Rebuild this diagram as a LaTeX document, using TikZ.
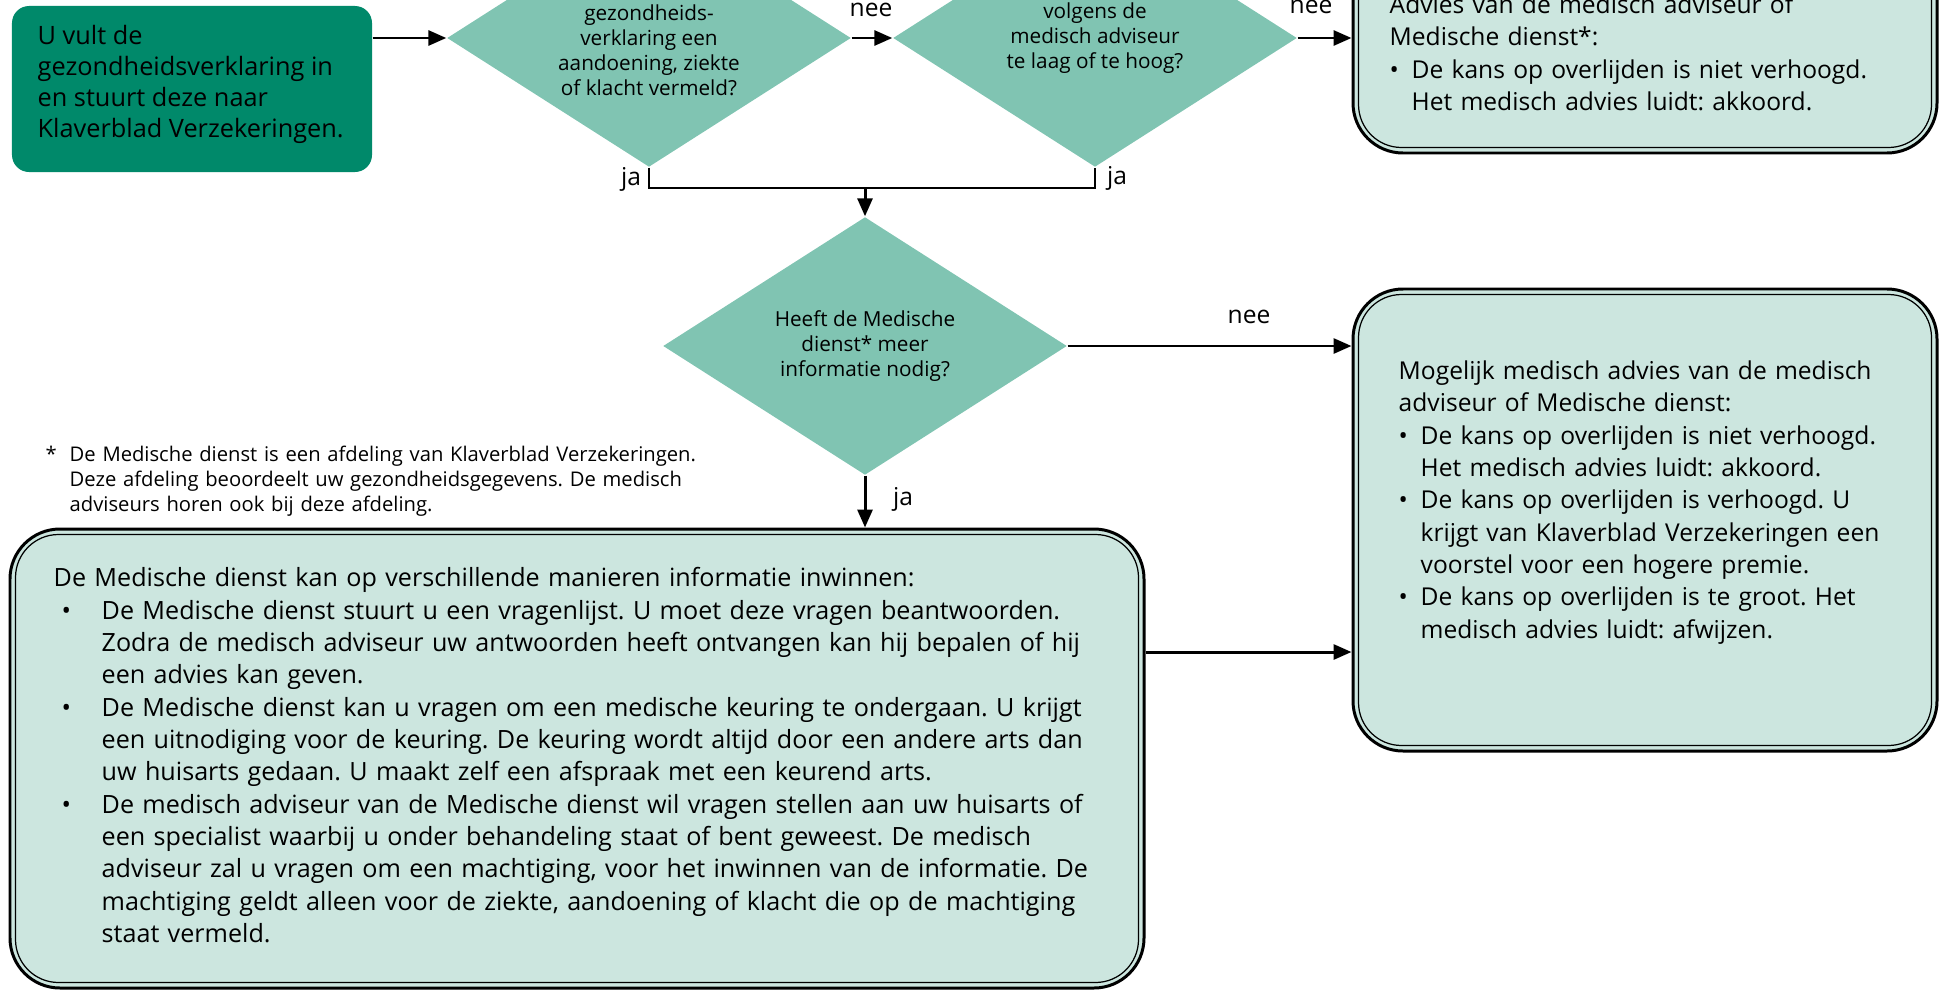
\documentclass[tikz,border=0pt]{standalone}
\usepackage{fontspec}
\setmainfont{Open Sans}
\usepackage{tikz}
\usetikzlibrary{shapes,arrows.meta,positioning}
\definecolor{donkergroen}{RGB}{0,137,106}
\definecolor{ruitgroen}{RGB}{128,196,178}
\definecolor{lichtgroen}{RGB}{204,230,223}
\frenchspacing
\tikzstyle{arrow} = [line width=0.85pt,-{Triangle[length=1.8mm,width=1.5mm]}]
\tikzstyle{ruit} = [diamond, aspect=1.55, minimum width=4.04cm, minimum height=2.58cm, inner sep=0pt, fill=ruitgroen, align=center, font=\fontsize{5.9}{7.1}\selectfont]
\tikzstyle{kader} = [rectangle, rounded corners=0.5cm, draw=black, line width=0.85pt, fill=lichtgroen]
\tikzstyle{binnen} = [line width=0.35pt, rounded corners=0.43cm]
\tikzstyle{tekst} = [anchor=north west, inner sep=0pt, align=left, font=\fontsize{7}{9.2}\selectfont]
\tikzstyle{antw} = [inner sep=0pt, font=\fontsize{7}{8}\selectfont]
\newcommand{\punt}[2]{\par\hangindent=#1\hangafter=1\noindent\makebox[#1][l]{\hspace{#2}\textbullet}}

\begin{document}
\begin{tikzpicture}
    \useasboundingbox (0,0) rectangle (19.40,-9.90);
    \clip (0,0) rectangle (19.40,-9.90);

        % begin en vragen
        \node (GV) [rectangle, rounded corners=0.17cm, fill=donkergroen, minimum width=3.60cm, minimum height=1.66cm] at (1.92,-0.89) {};
        \node (GVt) [tekst, font=\fontsize{7.2}{8.8}\selectfont] at (0.37,-0.25) {U vult de\\gezondheidsverklaring in\\en stuurt deze naar\\Klaverblad Verzekeringen.};
        \node (AZ) [ruit] at (6.49,-0.38) {Is op de\\gezondheids-\\verklaring een\\aandoening, ziekte\\of klacht vermeld?};
        \node (BMI) [ruit] at (10.95,-0.38) {volgens de\\medisch adviseur\\te laag of te hoog?};
        \node (MI) [ruit] at (8.65,-3.46) {Heeft de Medische\\dienst* meer\\informatie nodig?};

        % kaders
        \node (AK) [kader, minimum width=5.84cm, minimum height=2.33cm] at (16.45,-0.365) {};
        \draw[binnen] ([shift={(0.07,-0.07)}]AK.north west) rectangle ([shift={(-0.07,0.07)}]AK.south east);
        \node (AKt) [tekst, text width=5.3cm] at (13.89,0.06) {Advies van de medisch adviseur of\newline Medische dienst*:
            \punt{0.22cm}{0cm}De kans op overlijden is niet verhoogd.\newline Het medisch advies luidt: akkoord.\par};

        \node (MA) [kader, minimum width=5.84cm, minimum height=4.62cm] at (16.45,-5.20) {};
        \draw[binnen] ([shift={(0.07,-0.07)}]MA.north west) rectangle ([shift={(-0.07,0.07)}]MA.south east);
        \node (MAt) [tekst, text width=5.3cm] at (13.98,-3.60) {Mogelijk medisch advies van de medisch\newline adviseur of Medische dienst:
            \punt{0.22cm}{0cm}De kans op overlijden is niet verhoogd.\newline Het medisch advies luidt: akkoord.
            \punt{0.22cm}{0cm}De kans op overlijden is verhoogd. U\newline krijgt van Klaverblad Verzekeringen een\newline voorstel voor een hogere premie.
            \punt{0.22cm}{0cm}De kans op overlijden is te groot. Het\newline medisch advies luidt: afwijzen.\par};

        \node (IW) [kader, minimum width=11.34cm, minimum height=4.59cm] at (5.77,-7.585) {};
        \draw[binnen] ([shift={(0.07,-0.07)}]IW.north west) rectangle ([shift={(-0.07,0.07)}]IW.south east);
        \node (IWt) [tekst, text width=10.9cm, font=\fontsize{7.15}{9.2}\selectfont] at (0.53,-5.67) {De Medische dienst kan op verschillende manieren informatie inwinnen:
            \punt{0.48cm}{0.08cm}De Medische dienst stuurt u een vragenlijst. U moet deze vragen beantwoorden.\newline Zodra de medisch adviseur uw antwoorden heeft ontvangen kan hij bepalen of hij\newline een advies kan geven.
            \punt{0.48cm}{0.08cm}De Medische dienst kan u vragen om een medische keuring te ondergaan. U krijgt\newline een uitnodiging voor de keuring. De keuring wordt altijd door een andere arts dan\newline uw huisarts gedaan. U maakt zelf een afspraak met een keurend arts.
            \punt{0.48cm}{0.08cm}De medisch adviseur van de Medische dienst wil vragen stellen aan uw huisarts of\newline een specialist waarbij u onder behandeling staat of bent geweest. De medisch\newline adviseur zal u vragen om een machtiging, voor het inwinnen van de informatie. De\newline machtiging geldt alleen voor de ziekte, aandoening of klacht die op de machtiging\newline staat vermeld.\par};

        % voetnoot
        \node (VN) [tekst, text width=7.4cm, font=\fontsize{5.75}{7.2}\selectfont] at (0.45,-4.45) {\hangindent=0.24cm\hangafter=1\noindent\makebox[0.24cm][l]{*}De Medische dienst is een afdeling van Klaverblad Verzekeringen.\newline Deze afdeling beoordeelt uw gezondheidsgegevens. De medisch\newline adviseurs horen ook bij deze afdeling.\par};

        % pijlen
        \draw[arrow] (GV.east |- AZ.west) -- (AZ.west);
        \draw[arrow] (AZ.east) -- (BMI.west);
        \draw[arrow] (BMI.east) -- (BMI.east -| AK.west);
        \coordinate (J) at (8.65,-1.88);
        \draw[line width=0.45pt] (AZ.south) -- (AZ.south |- J) -- (BMI.south |- J) -- (BMI.south);
        \draw[arrow] (J) -- (MI.north);
        \draw[arrow] (MI.east) -- (MI.east -| MA.west);
        \draw[arrow] (MI.south) -- (MI.south |- IW.north);
        \draw[arrow] ([yshift=1.065cm]IW.east) -- ([yshift=1.065cm]IW.east -| MA.west);

        \node (nee1) [antw] at (8.71,-0.10) {nee};
        \node (nee2) [antw] at (13.11,-0.07) {nee};
        \node (nee3) [antw] at (12.49,-3.17) {nee};
        \node (ja1) [antw] at (6.31,-1.79) {ja};
        \node (ja2) [antw] at (11.17,-1.78) {ja};
        \node (ja3) [antw] at (9.03,-4.99) {ja};

\end{tikzpicture}
\end{document}
